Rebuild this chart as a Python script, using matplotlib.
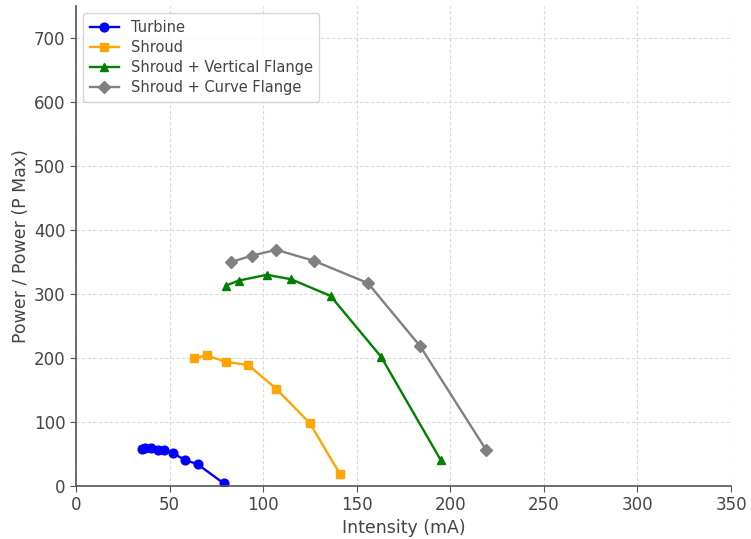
import matplotlib
matplotlib.use("Agg")
import matplotlib.pyplot as plt

turbine_x = [35, 37, 40, 44, 47, 52, 58, 65, 79]
turbine_y = [58, 60, 60, 57, 56, 51, 41, 34, 4]

shroud_x = [63, 70, 80, 92, 107, 125, 141]
shroud_y = [200, 204, 194, 189, 152, 98, 19]

vflange_x = [80, 87, 102, 115, 136, 163, 195]
vflange_y = [313, 321, 330, 323, 297, 202, 40]

cflange_x = [83, 94, 107, 127, 156, 184, 219]
cflange_y = [350, 360, 369, 352, 317, 218, 57]

series = [
    ("Turbine", turbine_x, turbine_y, "blue", "o", 6.3),
    ("Shroud", shroud_x, shroud_y, "orange", "s", 6.3),
    ("Shroud + Vertical Flange", vflange_x, vflange_y, "green", "^", 6.3),
    ("Shroud + Curve Flange", cflange_x, cflange_y, "gray", "D", 6),
]

text_color = "#444444"
fig = plt.figure(figsize=(7.51, 5.39), dpi=100)
ax = fig.add_axes([0.1012, 0.0983, 0.8722, 0.8906])
for label, x, y, c, m, ms in series:
    ax.plot(x, y, color=c, marker=m, markersize=ms, linewidth=1.7, label=label)

ax.set_xlim(0, 350)
ax.set_ylim(0, 750)
ax.set_xticks(range(0, 351, 50))
ax.set_yticks(range(0, 701, 100))
ax.grid(True, linestyle=(0, (3, 2)), color="#d9d9d9", linewidth=0.8)
ax.set_axisbelow(True)
for s in ["top", "right"]:
    ax.spines[s].set_visible(False)
for s in ["left", "bottom"]:
    ax.spines[s].set_color("#555555")
    ax.spines[s].set_linewidth(1.2)
ax.tick_params(colors="#555555", labelcolor=text_color, labelsize=12, length=4)
ax.set_xlabel("Intensity (mA)", fontsize=12.5, color=text_color, labelpad=3)
ax.set_ylabel("Power / Power (P Max)", fontsize=12.5, color=text_color, labelpad=3)
leg = ax.legend(loc="upper left", fontsize=10.5, frameon=True, borderpad=0.45,
                handlelength=2.0, labelspacing=0.35)
for t in leg.get_texts():
    t.set_color(text_color)
fig.savefig("out.png", dpi=100)
